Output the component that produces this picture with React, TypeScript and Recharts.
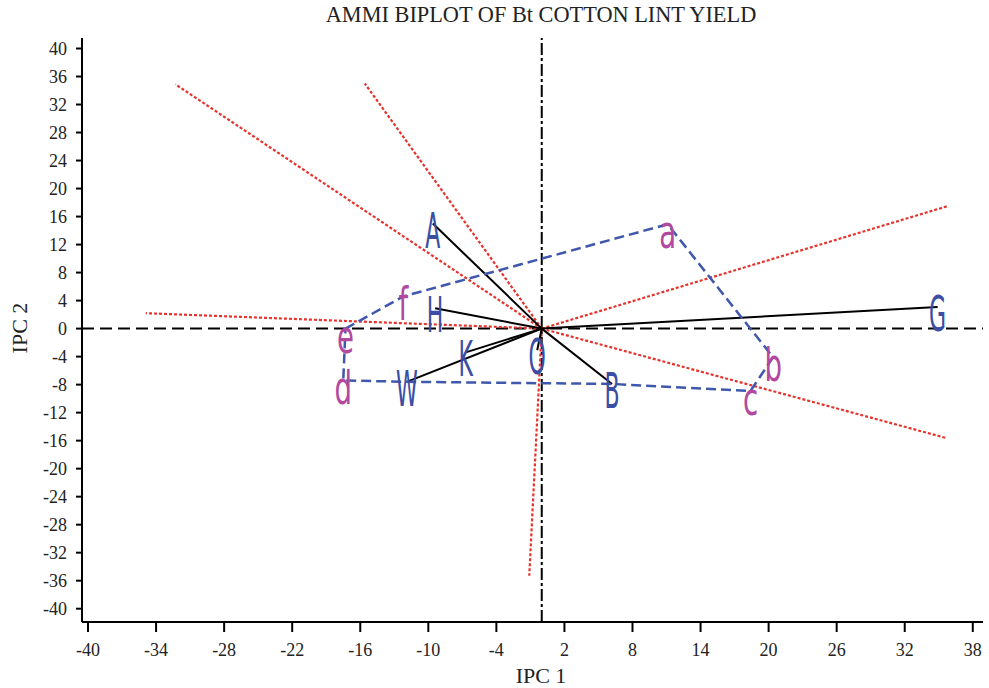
import React from 'react';
import { ScatterChart, Scatter, XAxis, YAxis, ReferenceLine } from 'recharts';

// axis ticks
const xTicks = [-40, -34, -28, -22, -16, -10, -4, 2, 8, 14, 20, 26, 32, 38];
const yTicks = [-40, -36, -32, -28, -24, -20, -16, -12, -8, -4, 0, 4, 8, 12, 16, 20, 24, 28, 32, 36, 40];

// genotype scores (IPC1, IPC2)
const genoNames = ['A', 'H', 'K', 'W', 'O', 'B', 'G'];
const genoIPC1 = [-9.6, -9.4, -6.7, -11.9, -0.4, 6.2, 34.9];
const genoIPC2 = [15.0, 2.9, -3.4, -7.6, -3.1, -7.9, 3.1];

// environment scores
const envNames = ['a', 'b', 'c', 'd', 'e', 'f'];
const envIPC1 = [11.1, 20.4, 18.4, -17.5, -17.3, -12.2];
const envIPC2 = [14.9, -4.1, -8.9, -7.4, 0.0, 4.6];

// red dotted rays from the origin
const rayIPC1 = [-32.3, -15.6, 35.8, 35.6, -34.9, -1.1];
const rayIPC2 = [34.9, 35.0, 17.5, -15.6, 2.2, -35.3];

// outline drawn through these points, in order
const hullOrder = ['e', 'f', 'a', 'b', 'c', 'B', 'W', 'd', 'e'];

const genoData = genoNames.map((name, i) => ({ name, x: genoIPC1[i], y: genoIPC2[i] }));
const envData = envNames.map((name, i) => ({ name, x: envIPC1[i], y: envIPC2[i] }));
const lookup = [...genoData, ...envData];
const hullData = hullOrder.map((n) => {
  const p = lookup.find((d) => d.name === n)!;
  return { x: p.x, y: p.y };
});

const BLUE = '#3b4ea3';
const MAGENTA = '#b3489f';
const RED = '#e5332d';
const serif = '"Liberation Serif", "DejaVu Serif", serif';

const noDot = () => <g />;

const makeLabel = (color: string, size: number, sx: number) => (props: any) => {
  const { cx, cy, payload } = props;
  return (
    <text
      transform={`translate(${cx},${cy + 24}) scale(${sx},1)`}
      textAnchor="middle"
      fontFamily='"DejaVu Sans", sans-serif'
      fontSize={size}
      fill={color}
    >
      {payload.name}
    </text>
  );
};

const tickStyle = { fontFamily: serif, fontSize: 18, fill: '#222' };

const App: React.FC = () => {
  return (
    <div style={{ position: 'absolute', left: 0, top: 0, width: 989, height: 688, background: '#fff' }}>
      <div style={{ position: 'absolute', left: 0, width: 1082, top: 3, textAlign: 'center', fontFamily: serif, fontSize: 23, lineHeight: '24px', color: '#222', transform: 'scaleX(0.97)' }}>
        AMMI BIPLOT OF Bt COTTON LINT YIELD
      </div>
      <div style={{ position: 'absolute', left: 0, width: 1082, top: 664, textAlign: 'center', fontFamily: serif, fontSize: 22, lineHeight: '24px', color: '#222' }}>
        IPC 1
      </div>
      <div style={{ position: 'absolute', left: 20, top: 328, transform: 'translate(-50%,-50%) rotate(-90deg)', fontFamily: serif, fontSize: 22, lineHeight: '24px', color: '#222', whiteSpace: 'nowrap' }}>
        IPC 2
      </div>
      <ScatterChart width={989} height={688} margin={{ top: 38, right: 6, bottom: 16, left: 22 }}>
        <XAxis
          type="number"
          dataKey="x"
          domain={[-40.53, 38.9]}
          ticks={xTicks}
          allowDataOverflow
          height={50}
          tickSize={10}
          tickMargin={11}
          tick={tickStyle}
          tickLine={{ stroke: '#000', strokeWidth: 2 }}
          axisLine={{ stroke: '#000', strokeWidth: 2 }}
        />
        <XAxis xAxisId="top" orientation="top" type="number" domain={[-40.53, 38.9]} height={0} tick={false} tickLine={false} axisLine={{ stroke: '#000', strokeWidth: 2 }} />
        <YAxis
          type="number"
          dataKey="y"
          domain={[-41.9, 41.5]}
          ticks={yTicks}
          allowDataOverflow
          width={60}
          tickSize={6}
          tickMargin={9}
          tick={tickStyle}
          tickLine={{ stroke: '#000', strokeWidth: 2 }}
          axisLine={{ stroke: '#000', strokeWidth: 2 }}
        />
        <YAxis yAxisId="right" orientation="right" type="number" domain={[-41.9, 41.5]} width={0} tick={false} tickLine={false} axisLine={{ stroke: '#000', strokeWidth: 2 }} />
        <ReferenceLine x={0} stroke="#000" strokeWidth={2} strokeDasharray="12 3 3 3" />
        <ReferenceLine y={0} stroke="#000" strokeWidth={2} strokeDasharray="12 6" />
        {rayIPC1.map((x, i) => (
          <Scatter
            key={`ray-${i}`}
            data={[{ x: 0, y: 0 }, { x, y: rayIPC2[i] }]}
            line={{ stroke: RED, strokeWidth: 2.2, strokeDasharray: '3 2' }}
            lineType="joint"
            shape={noDot}
            isAnimationActive={false}
          />
        ))}
        {genoData.map((g) => (
          <Scatter
            key={`vec-${g.name}`}
            data={[{ x: 0, y: 0 }, { x: g.x, y: g.y }]}
            line={{ stroke: '#000', strokeWidth: 2 }}
            lineType="joint"
            shape={noDot}
            isAnimationActive={false}
          />
        ))}
        <Scatter
          data={hullData}
          line={{ stroke: '#3f57ad', strokeWidth: 2.5, strokeDasharray: '10 5' }}
          lineType="joint"
          shape={noDot}
          isAnimationActive={false}
        />
        <Scatter data={genoData} shape={makeLabel(BLUE, 50, 0.44)} isAnimationActive={false} />
        <Scatter data={envData} shape={makeLabel(MAGENTA, 46, 0.6)} isAnimationActive={false} />
      </ScatterChart>
    </div>
  );
};

export default App;
